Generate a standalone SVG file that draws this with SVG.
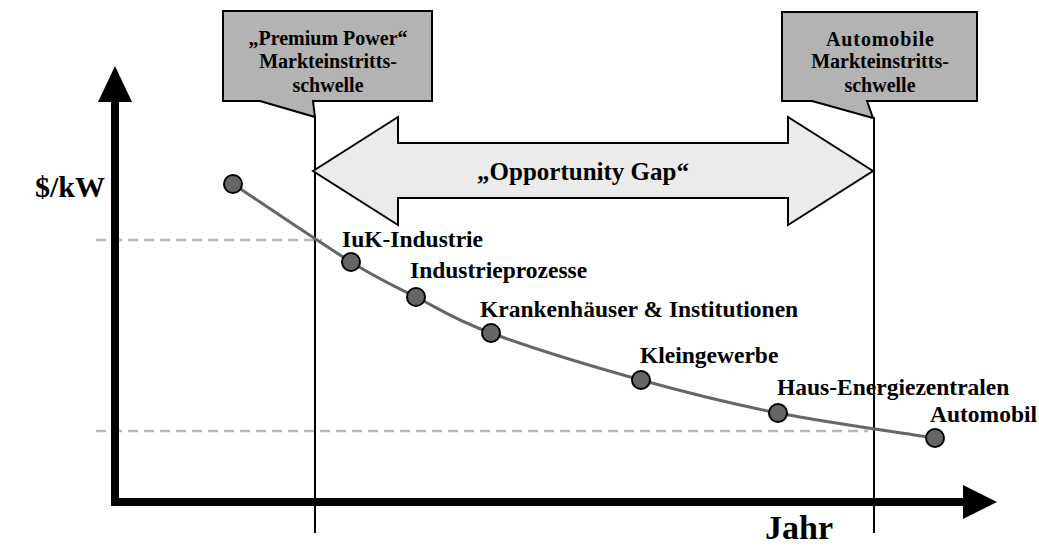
<svg xmlns="http://www.w3.org/2000/svg" width="1039" height="548" viewBox="0 0 1039 548">
<style>
text{font-family:"Liberation Serif","Times New Roman",serif;font-weight:bold;fill:#000}
.call{fill:#b3b3b3;stroke:#000;stroke-width:2;stroke-linejoin:miter}
.ct{font-size:20px;text-anchor:middle}
.lbl{font-size:23.5px}
.dash{stroke:#b8b8b8;stroke-width:2.5;stroke-dasharray:10 6;fill:none}
.vline{stroke:#000;stroke-width:2;fill:none}
.axis{stroke:#000;stroke-width:8;fill:none}
.pt{fill:#666;stroke:#000;stroke-width:2}
.curve{stroke:#666;stroke-width:3;fill:none}
</style>
<rect width="1039" height="548" fill="#fff"/>
<g id="guides">
<line class="dash" x1="96" y1="240" x2="322" y2="240"/>
<line class="dash" x1="96" y1="431" x2="868" y2="431"/>
</g>
<g id="axes">
<path class="axis" d="M115,100 V502 H965"/>
<polygon points="115,66 132,102 98,102" fill="#000"/>
<polygon points="997,502 963,485 963,519" fill="#000"/>
<text x="105" y="197" font-size="30" text-anchor="end">$/kW</text>
<text x="765" y="539" font-size="34">Jahr</text>
</g>
<g id="connectors">
<line class="vline" x1="315" y1="116" x2="315" y2="533"/>
<line class="vline" x1="874" y1="117" x2="874" y2="533"/>
<path class="curve" d="M233,184 C252.7,197 320.5,243.2 351,262 C381.5,280.8 392.7,285.2 416,297 C439.3,308.8 453.5,319.2 491,333 C528.5,346.8 593.2,366.7 641,380 C688.8,393.3 729,403.3 778,413 C827,422.7 908.8,433.8 935,438"/>
</g>
<g id="callout-premium">
<path class="call" d="M223,11 H432 V101 H313 L315,117 L260,101 H223 Z"/>
<text class="ct" x="328" y="45">„Premium Power“</text>
<text class="ct" x="328" y="68">Markteinstritts-</text>
<text class="ct" x="328" y="92">schwelle</text>
</g>
<g id="callout-auto">
<path class="call" d="M782,12 H977 V101 H867 L873,118 L812,101 H782 Z"/>
<text class="ct" x="880" y="46" textLength="108" lengthAdjust="spacing">Automobile</text>
<text class="ct" x="880" y="68">Markteinstritts-</text>
<text class="ct" x="880" y="92">schwelle</text>
</g>
<g id="opportunity-gap">
<polygon points="313,171 398,117 398,143 788,143 788,117 873,171 788,225 788,198 398,198 398,225" fill="#ebebeb" stroke="#000" stroke-width="2"/>
<text x="583" y="180" font-size="25" text-anchor="middle">„Opportunity Gap“</text>
</g>
<g id="points">
<g id="p-start"><circle class="pt" cx="233" cy="184" r="9"/></g>
<g id="p-iuk"><circle class="pt" cx="351" cy="262" r="9"/><text class="lbl" x="342" y="247">IuK-Industrie</text></g>
<g id="p-industrie"><circle class="pt" cx="416" cy="297" r="9"/><text class="lbl" x="410" y="278">Industrieprozesse</text></g>
<g id="p-kranken"><circle class="pt" cx="491" cy="333" r="9"/><text class="lbl" x="480" y="317">Krankenhäuser &amp; Institutionen</text></g>
<g id="p-klein"><circle class="pt" cx="641" cy="380" r="9"/><text class="lbl" x="640" y="363">Kleingewerbe</text></g>
<g id="p-haus"><circle class="pt" cx="778" cy="413" r="9"/><text class="lbl" x="777" y="395">Haus-Energiezentralen</text></g>
<g id="p-auto"><circle class="pt" cx="935" cy="438" r="9"/><text class="lbl" x="930" y="422">Automobil</text></g>
</g>
</svg>
